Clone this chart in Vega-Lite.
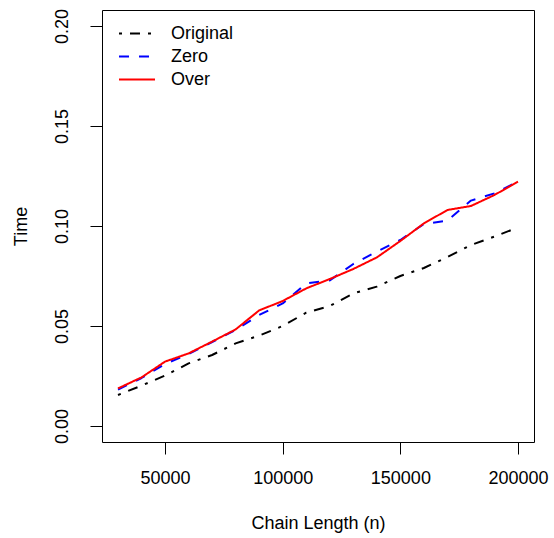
{
  "$schema": "https://vega.github.io/schema/vega-lite/v6.json",
  "width": 432,
  "height": 432,
  "autosize": {"type": "none"},
  "padding": {"left": 102, "top": 10, "right": 20, "bottom": 96},
  "background": "white",
  "config": {
    "font": "Liberation Sans",
    "view": {"stroke": "black", "strokeWidth": 1},
    "axis": {
      "domain": false,
      "grid": false,
      "tickColor": "black",
      "tickSize": 12,
      "tickWidth": 1,
      "labelFont": "Liberation Sans",
      "labelFontSize": 18,
      "labelColor": "black",
      "titleFont": "Liberation Sans",
      "titleFontSize": 18,
      "titleFontWeight": "normal",
      "titleColor": "black"
    },
    "legend": {
      "orient": "none",
      "legendX": 16,
      "legendY": 12,
      "direction": "vertical",
      "title": null,
      "symbolType": "stroke",
      "symbolSize": 1296,
      "symbolStrokeWidth": 2,
      "labelFont": "Liberation Sans",
      "labelFontSize": 18,
      "labelColor": "black",
      "labelOffset": 15,
      "clipHeight": 23,
      "rowPadding": 0,
      "padding": 0
    }
  },
  "data": {
    "values": [
      {"n": 30000, "series": "Original", "time": 0.0155},
      {"n": 40000, "series": "Original", "time": 0.0202},
      {"n": 50000, "series": "Original", "time": 0.0252},
      {"n": 60000, "series": "Original", "time": 0.0313},
      {"n": 70000, "series": "Original", "time": 0.0355},
      {"n": 80000, "series": "Original", "time": 0.0413},
      {"n": 90000, "series": "Original", "time": 0.0452},
      {"n": 100000, "series": "Original", "time": 0.0500},
      {"n": 110000, "series": "Original", "time": 0.0567},
      {"n": 120000, "series": "Original", "time": 0.0600},
      {"n": 130000, "series": "Original", "time": 0.0663},
      {"n": 140000, "series": "Original", "time": 0.0697},
      {"n": 150000, "series": "Original", "time": 0.0750},
      {"n": 160000, "series": "Original", "time": 0.0790},
      {"n": 170000, "series": "Original", "time": 0.0845},
      {"n": 180000, "series": "Original", "time": 0.0905},
      {"n": 190000, "series": "Original", "time": 0.0947},
      {"n": 200000, "series": "Original", "time": 0.0993},
      {"n": 30000, "series": "Zero", "time": 0.0182},
      {"n": 40000, "series": "Zero", "time": 0.0240},
      {"n": 50000, "series": "Zero", "time": 0.0310},
      {"n": 60000, "series": "Zero", "time": 0.0360},
      {"n": 70000, "series": "Zero", "time": 0.0420},
      {"n": 80000, "series": "Zero", "time": 0.0480},
      {"n": 90000, "series": "Zero", "time": 0.0555},
      {"n": 100000, "series": "Zero", "time": 0.0613},
      {"n": 110000, "series": "Zero", "time": 0.0713},
      {"n": 120000, "series": "Zero", "time": 0.0728},
      {"n": 130000, "series": "Zero", "time": 0.0810},
      {"n": 140000, "series": "Zero", "time": 0.0872},
      {"n": 150000, "series": "Zero", "time": 0.0930},
      {"n": 160000, "series": "Zero", "time": 0.1010},
      {"n": 170000, "series": "Zero", "time": 0.1027},
      {"n": 180000, "series": "Zero", "time": 0.1127},
      {"n": 190000, "series": "Zero", "time": 0.1163},
      {"n": 200000, "series": "Zero", "time": 0.1222},
      {"n": 30000, "series": "Over", "time": 0.0188},
      {"n": 40000, "series": "Over", "time": 0.0243},
      {"n": 50000, "series": "Over", "time": 0.0322},
      {"n": 60000, "series": "Over", "time": 0.0363},
      {"n": 70000, "series": "Over", "time": 0.0422},
      {"n": 80000, "series": "Over", "time": 0.0483},
      {"n": 90000, "series": "Over", "time": 0.0578},
      {"n": 100000, "series": "Over", "time": 0.0625},
      {"n": 110000, "series": "Over", "time": 0.0688},
      {"n": 120000, "series": "Over", "time": 0.0735},
      {"n": 130000, "series": "Over", "time": 0.0785},
      {"n": 140000, "series": "Over", "time": 0.0843},
      {"n": 150000, "series": "Over", "time": 0.0925},
      {"n": 160000, "series": "Over", "time": 0.1013},
      {"n": 170000, "series": "Over", "time": 0.1080},
      {"n": 180000, "series": "Over", "time": 0.1100},
      {"n": 190000, "series": "Over", "time": 0.1155},
      {"n": 200000, "series": "Over", "time": 0.1222}
    ]
  },
  "mark": {"type": "line", "strokeWidth": 2, "strokeCap": "butt", "strokeJoin": "round"},
  "encoding": {
    "x": {
      "field": "n",
      "type": "quantitative",
      "scale": {"domain": [23200, 206800], "nice": false, "zero": false},
      "axis": {
        "values": [50000, 100000, 150000, 200000],
        "format": "d",
        "title": "Chain Length (n)",
        "labelPadding": 15,
        "titlePadding": 27
      }
    },
    "y": {
      "field": "time",
      "type": "quantitative",
      "scale": {"domain": [-0.008, 0.208], "nice": false, "zero": false},
      "axis": {
        "values": [0, 0.05, 0.1, 0.15, 0.2],
        "format": ".2f",
        "title": "Time",
        "labelAngle": 270,
        "labelAlign": "center",
        "labelBaseline": "bottom",
        "labelPadding": 19,
        "titlePadding": 23
      }
    },
    "color": {
      "field": "series",
      "type": "nominal",
      "sort": ["Original", "Zero", "Over"],
      "scale": {"domain": ["Original", "Zero", "Over"], "range": ["#000000", "#0000FF", "#FF0000"]}
    },
    "strokeDash": {
      "field": "series",
      "type": "nominal",
      "sort": ["Original", "Zero", "Over"],
      "scale": {"domain": ["Original", "Zero", "Over"], "range": [[3, 8, 10, 8], [10, 10], [1, 0]]}
    }
  }
}
